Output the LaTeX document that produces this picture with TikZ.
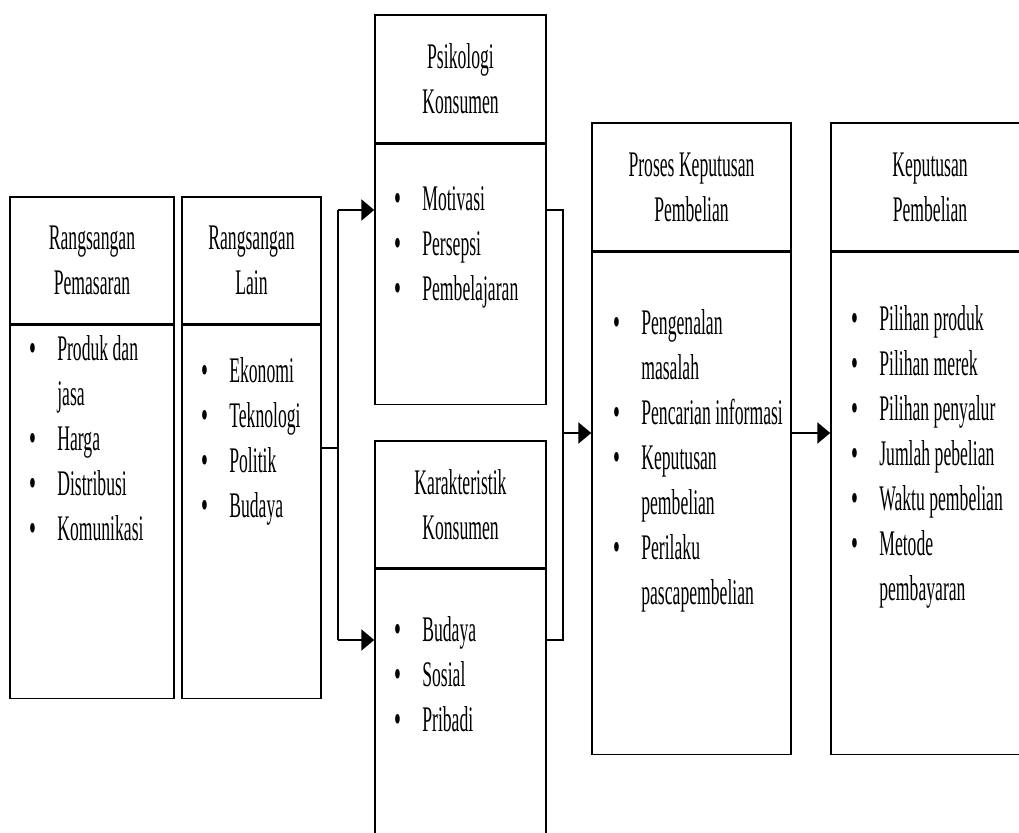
\documentclass[tikz,border=0pt]{standalone}
\usepackage{fontspec}
\setmainfont{Liberation Serif}[FakeStretch=0.49]
\usetikzlibrary{arrows.meta}

\tikzset{
  head/.style={draw, line width=1.5pt, align=center, inner sep=0pt},
  body/.style={draw, line width=1.5pt, inner sep=0pt, anchor=north},
  items/.style={inner sep=0pt, anchor=north west},
  link/.style={line width=2.4pt},
  arr/.style={link, -{Triangle[length=13pt,width=21pt]}}
}
\newcommand{\bul}{\raisebox{-1pt}{\fontsize{40}{45}\selectfont\textbullet}}
\newcommand{\itemlist}[1]{\begin{tabular}{@{}l@{\hspace{21pt}}l@{}}#1\end{tabular}}

\begin{document}
\begin{tikzpicture}[x=1pt, y=-1pt, every node/.style={font=\fontsize{36}{45}\selectfont}]
\useasboundingbox (0,0) rectangle (1019,832);
\clip (0,0) rectangle (1019,832);

\node[head, minimum width=164pt, minimum height=127pt] (rpH) at (92,260.5) {Rangsangan\\Pemasaran};
\node[body, minimum width=164pt, minimum height=373pt] (rpB) at (rpH.south) {};
\node[items] (rpL) at ([shift={(20pt,-4.5pt)}]rpB.north west)
  {\itemlist{\bul & Produk dan\\ & jasa\\ \bul & Harga\\ \bul & Distribusi\\ \bul & Komunikasi}};

\node[head, minimum width=139pt, minimum height=127pt] (rlH) at (251.5,260.5) {Rangsangan\\Lain};
\node[body, minimum width=139pt, minimum height=373pt] (rlB) at (rlH.south) {};
\node[items] (rlL) at ([shift={(20pt,-26.5pt)}]rlB.north west)
  {\itemlist{\bul & Ekonomi\\ \bul & Teknologi\\ \bul & Politik\\ \bul & Budaya}};

\node[head, minimum width=171pt, minimum height=128pt] (pkH) at (460.5,79) {Psikologi\\Konsumen};
\node[body, minimum width=171pt, minimum height=260pt] (pkB) at (pkH.south) {};
\node[items] (pkL) at ([shift={(20pt,-35.5pt)}]pkB.north west)
  {\itemlist{\bul & Motivasi\\ \bul & Persepsi\\ \bul & Pembelajaran}};

\node[head, minimum width=171pt, minimum height=127pt] (kkH) at (460.5,504.5) {Karakteristik\\Konsumen};
\node[body, minimum width=171pt, minimum height=280pt] (kkB) at (kkH.south) {};
\node[items] (kkL) at ([shift={(20pt,-41.5pt)}]kkB.north west)
  {\itemlist{\bul & Budaya\\ \bul & Sosial\\ \bul & Pribadi}};

\node[head, minimum width=199pt, minimum height=128pt] (pbH) at (691.5,187) {Proses Keputusan\\Pembelian};
\node[body, minimum width=199pt, minimum height=502pt] (pbB) at (pbH.south) {};
\node[items] (pbL) at ([shift={(22pt,-51.5pt)}]pbB.north west)
  {\itemlist{\bul & Pengenalan\\ & masalah\\ \bul & Pencarian informasi\\ \bul & Keputusan\\ & pembelian\\ \bul & Perilaku\\ & pascapembelian}};

\node[head, minimum width=198pt, minimum height=128pt] (kpH) at (930,187) {Keputusan\\Pembelian};
\node[body, minimum width=198pt, minimum height=502pt] (kpB) at (kpH.south) {};
\node[items] (kpL) at ([shift={(21pt,-47.5pt)}]kpB.north west)
  {\itemlist{\bul & Pilihan produk\\ \bul & Pilihan merek\\ \bul & Pilihan penyalur\\ \bul & Jumlah pebelian\\ \bul & Waktu pembelian\\ \bul & Metode\\ & pembayaran}};

\coordinate (fork)  at (338,448);
\coordinate (forkT) at (338,210);
\coordinate (forkB) at (338,640);
\coordinate (join)  at (563,433);
\coordinate (joinT) at (563,210);
\coordinate (joinB) at (563,640);

\draw[link] (rlB.east |- fork) -- (fork);
\draw[link] (forkT) -- (forkB);
\draw[arr] (forkT) -- (pkB.west |- forkT);
\draw[arr] (forkB) -- (kkB.west |- forkB);

\draw[link] (pkB.east |- joinT) -- (joinT) -- (joinB) -- (kkB.east |- joinB);
\draw[arr] (join) -- (pbB.west |- join);
\draw[arr] (pbB.east |- join) -- (kpB.west |- join);

\end{tikzpicture}
\end{document}
